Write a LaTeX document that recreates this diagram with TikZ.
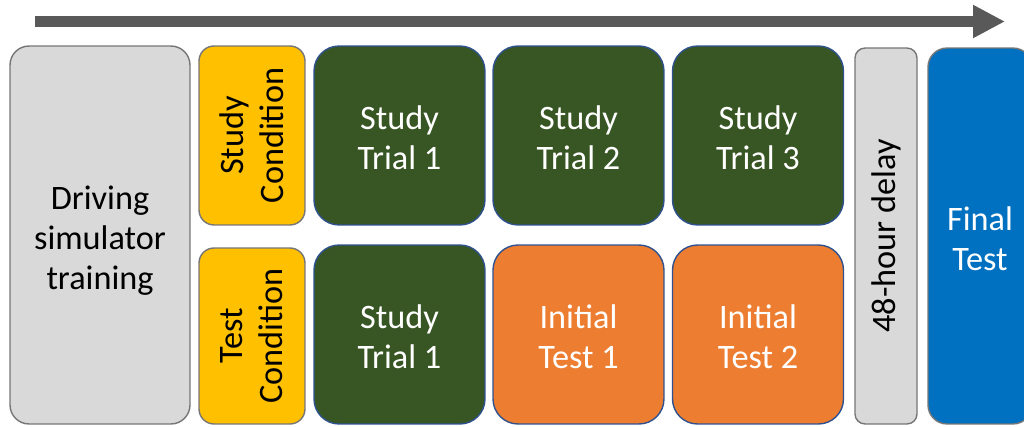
\documentclass[tikz,border=0pt]{standalone}
\usepackage{fontspec}
\setmainfont{Carlito}
\usetikzlibrary{arrows.meta}

\definecolor{boxgray}{HTML}{D9D9D9}
\definecolor{edgegray}{HTML}{767676}
\definecolor{condyellow}{HTML}{FFC000}
\definecolor{studygreen}{HTML}{375623}
\definecolor{testorange}{HTML}{ED7D31}
\definecolor{finalblue}{HTML}{0070C0}
\definecolor{edgeblue}{HTML}{2F528F}
\definecolor{arrowgray}{HTML}{595959}

\tikzset{
  phase/.style={draw, line width=0.8pt, inner sep=0pt},
  lbl/.style={align=center, inner sep=0pt, yshift=-0.05cm,
    font=\fontsize{19.5}{22.7}\selectfont},
  graybox/.style={phase, fill=boxgray, draw=edgegray},
  condbox/.style={phase, fill=condyellow, draw=edgegray,
    minimum width=2.12cm, minimum height=3.58cm, rounded corners=0.3cm},
  trialbox/.style={phase, draw=edgeblue,
    minimum width=3.42cm, minimum height=3.58cm, rounded corners=0.5cm},
  studybox/.style={trialbox, fill=studygreen},
  testbox/.style={trialbox, fill=testorange},
}

\begin{document}
\begin{tikzpicture}[x=0.02cm, y=-0.02cm]
  \useasboundingbox (0,0) rectangle (1024,426);

  % time line
  \coordinate (tstart) at (35,21.5);
  \coordinate (tend) at (1005,21.5);
  \draw[arrowgray, line width=0.22cm, -{Triangle[length=0.64cm, width=0.62cm]}] (tstart) -- (tend);

  % training
  \node[graybox, minimum width=3.6cm, minimum height=7.56cm, rounded corners=0.38cm]
    (training) at (100,235) {};
  \node[lbl, yshift=-0.06cm] at (training) {Driving\\simulator\\training};

  % conditions
  \node[condbox] (studycond) at (252,135.5) {};
  \node[lbl, yshift=0.05cm, rotate=90] at (studycond) {Study\\Condition};
  \node[condbox, minimum height=3.52cm] (testcond) at (252,336) {};
  \node[lbl, yshift=0.05cm, rotate=90] at (testcond) {Test\\Condition};

  % study condition row
  \node[studybox] (sa) at (399.5,135.5) {};
  \node[lbl, text=white] at (sa) {Study\\Trial 1};
  \node[studybox] (sb) at (578.5,135.5) {};
  \node[lbl, text=white] at (sb) {Study\\Trial 2};
  \node[studybox] (sc) at (758,135.5) {};
  \node[lbl, text=white] at (sc) {Study\\Trial 3};

  % test condition row
  \node[studybox] (ta) at (399.5,334.5) {};
  \node[lbl, text=white] at (ta) {Study\\Trial 1};
  \node[testbox] (tb) at (578.5,334.5) {};
  \node[lbl, text=white] at (tb) {Initial\\Test 1};
  \node[testbox] (tc) at (758,334.5) {};
  \node[lbl, text=white] at (tc) {Initial\\Test 2};

  % delay and final test
  \node[graybox, minimum width=1.24cm, minimum height=7.52cm, rounded corners=0.2cm]
    (delay) at (886,236) {};
  \node[lbl, yshift=0.05cm, rotate=90] at (delay) {48-hour delay};
  \node[phase, fill=finalblue, draw=edgegray, minimum width=2.08cm,
    minimum height=7.52cm, rounded corners=0.38cm] (final) at (980,236) {};
  \node[lbl, text=white] at (final) {Final\\Test};
\end{tikzpicture}
\end{document}
